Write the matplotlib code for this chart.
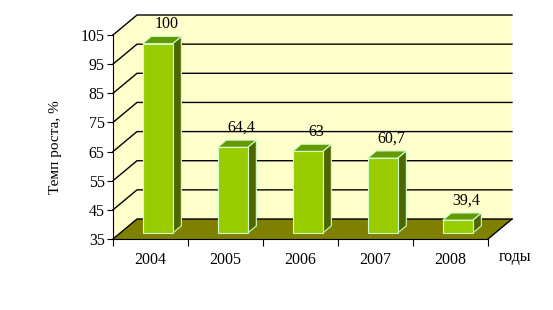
import matplotlib
matplotlib.use('Agg')
import matplotlib.pyplot as plt
from matplotlib.patches import Polygon

plt.rcParams['font.family'] = ['Liberation Serif', 'DejaVu Serif']

years = ['2004', '2005', '2006', '2007', '2008']
growth = [100, 64.4, 63, 60.7, 39.4]
value_labels = ['100', '64,4', '63', '60,7', '39,4']
y_ticks = [35, 45, 55, 65, 75, 85, 95, 105]

ymin, ymax = 35, 105
# depth offset of the back wall (in data units)
ox, oy = 0.32, 6.86
bar_front = 0.3
bar_depth = 0.36
half_w = 0.2

wall_c = '#FFFFCC'
floor_c = '#808000'
front_c = '#99CC00'
top_c = '#669900'
side_c = '#4D6600'
edge_c = '#CCFFCC'

fig = plt.figure(figsize=(5.53, 3.10), dpi=100)
W, H = 553, 310
ax = fig.add_axes([113 / W, (H - 239) / H, 375 / W, 204 / H])
ax.set_xlim(-0.5, 4.5)
ax.set_ylim(ymin, ymax)
ax.patch.set_visible(False)

x0, x1 = -0.5, 4.5
# back wall and left wall
ax.add_patch(Polygon([(x0 + ox, ymin + oy), (x1 + ox, ymin + oy), (x1 + ox, ymax + oy), (x0 + ox, ymax + oy)],
                     closed=True, fc=wall_c, ec='none', clip_on=False, zorder=0))
ax.add_patch(Polygon([(x0, ymin), (x0 + ox, ymin + oy), (x0 + ox, ymax + oy), (x0, ymax)],
                     closed=True, fc=wall_c, ec='none', clip_on=False, zorder=0))
# floor
ax.add_patch(Polygon([(x0, ymin), (x1, ymin), (x1 + ox, ymin + oy), (x0 + ox, ymin + oy)],
                     closed=True, fc=floor_c, ec='none', clip_on=False, zorder=1))
ax.plot([x1, x1 + ox], [ymin, ymin + oy], color='black', lw=1, clip_on=False, zorder=2)

# gridlines on the walls
for t in y_ticks:
    ax.plot([x0, x0 + ox, x1 + ox], [t, t + oy, t + oy], color='black', lw=1, clip_on=False, zorder=2)

# bars
for i, v in enumerate(growth):
    l = i - half_w + bar_front * ox
    r = i + half_w + bar_front * ox
    b = ymin + bar_front * oy
    t = v + bar_front * oy
    dx, dy = bar_depth * ox, bar_depth * oy
    ax.add_patch(Polygon([(r, b), (r + dx, b + dy), (r + dx, t + dy), (r, t)],
                         closed=True, fc=side_c, ec=edge_c, lw=0.8, clip_on=False, zorder=3))
    ax.add_patch(Polygon([(l, t), (r, t), (r + dx, t + dy), (l + dx, t + dy)],
                         closed=True, fc=top_c, ec=edge_c, lw=0.8, clip_on=False, zorder=3))
    ax.add_patch(Polygon([(l, b), (r, b), (r, t), (l, t)],
                         closed=True, fc=front_c, ec=edge_c, lw=0.8, clip_on=False, zorder=4))
    ax.text((l + r) / 2 + dx, t + dy + 1.5, value_labels[i], ha='center', va='bottom',
            fontsize=11.5, zorder=5)

for s in ['top', 'right']:
    ax.spines[s].set_visible(False)
ax.spines['left'].set_zorder(6)
ax.spines['bottom'].set_zorder(6)

ax.set_yticks(y_ticks)
ax.tick_params(axis='y', direction='out', length=4, labelsize=11.5, pad=2)
ax.set_xticks([-0.5, 0.5, 1.5, 2.5, 3.5, 4.5])
ax.set_xticklabels([])
ax.set_xticks(range(len(years)), minor=True)
ax.set_xticklabels(years, minor=True)
ax.tick_params(axis='x', which='major', direction='out', length=5)
ax.tick_params(axis='x', which='minor', length=0, labelsize=11.5, pad=9)

fig.text(515 / W, (H - 257) / H, 'годы', ha='center', va='center', fontsize=11.5)
fig.text(55 / W, (H - 147) / H, 'Темп роста, %', rotation=90, ha='center', va='center', fontsize=11)

fig.savefig('out.png', dpi=100)
